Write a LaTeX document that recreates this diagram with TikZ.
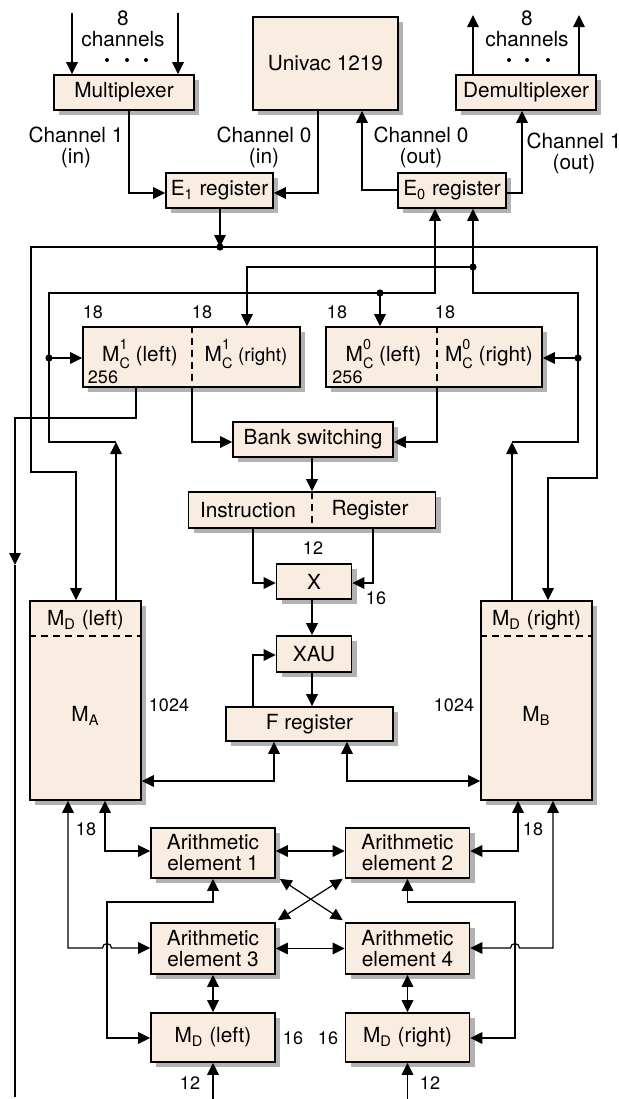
\documentclass[tikz,border=0pt]{standalone}
\usepackage{fontspec}
\setmainfont{TeX Gyre Heros}
\usetikzlibrary{arrows.meta,shadows}
\definecolor{boxfill}{RGB}{249,236,224}
\newcommand{\nsz}{\fontsize{9}{10}\selectfont}
\newcommand{\mcc}[1]{M\rlap{\raisebox{0.55em}{\fontsize{7.2}{8}\selectfont #1}}\raisebox{-0.35em}{\fontsize{7.2}{8}\selectfont C}}
\newcommand{\mdd}{M\textsubscript{D}}

\begin{document}
\begin{tikzpicture}[x=0.5pt,y=-0.5pt,line width=0.6pt,inner sep=0.5pt,
  font=\fontsize{10.4}{10.5}\selectfont,
  blk/.style={draw,line width=0.8pt,fill=boxfill,inner sep=0pt,
    drop shadow={shadow xshift=2.5pt,shadow yshift=-2.5pt,fill=black!30,opacity=1}},
  arr/.style={-{Triangle[length=6pt,width=5.8pt]}},
  arrs/.style={{Triangle[length=6pt,width=5.8pt]}-{Triangle[length=6pt,width=5.8pt]}},
  split/.style={dash pattern=on 3.5pt off 2.5pt},
  num/.style={font=\nsz}]
     \useasboundingbox (0,0) rectangle (619,1099);
     \node[blk,minimum width=70pt,minimum height=17.5pt] (mux) at (124,92.5) {Multiplexer};
     \node[blk,minimum width=72.5pt,minimum height=46.5pt] (univac) at (325.5,63.5) {Univac 1219};
     \node[blk,minimum width=70pt,minimum height=17.5pt] (demux) at (526,92.5) {Demultiplexer};
     \node[blk,minimum width=53.5pt,minimum height=17.5pt] (eone) at (219.5,190.5) {E\textsubscript{1} register};
     \node[blk,minimum width=54pt,minimum height=17.5pt] (ezero) at (452,190.5) {E\textsubscript{0} register};
     \node[blk,minimum width=108.5pt,minimum height=30pt] (mcone) at (191.5,357) {};
     \node[blk,minimum width=108pt,minimum height=30pt] (mczero) at (434,357) {};
     \node[blk,minimum width=80pt,minimum height=17.5pt] (bank) at (313,439.5) {Bank switching};
     \node[blk,minimum width=123.5pt,minimum height=18pt] (ireg) at (312,510) {};
     \node[blk,minimum width=37.5pt,minimum height=17.5pt] (xreg) at (314,581.5) {X};
     \node[blk,minimum width=37.5pt,minimum height=18pt] (xau) at (314,654) {XAU};
     \node[blk,minimum width=83.5pt,minimum height=17pt] (freg) at (309.5,724) {F register};
     \node[blk,minimum width=55.5pt,minimum height=99.5pt] (ma) at (85.5,700.5) {};
     \node[blk,minimum width=55.5pt,minimum height=99.5pt] (mb) at (536.5,700.5) {};
     \node[blk,align=center,minimum width=62pt,minimum height=25pt] (aeone) at (213,853) {Arithmetic\\element 1};
     \node[blk,align=center,minimum width=62pt,minimum height=25pt] (aetwo) at (407.5,853) {Arithmetic\\element 2};
     \node[blk,align=center,minimum width=62pt,minimum height=25.5pt] (aethree) at (213,948.5) {Arithmetic\\element 3};
     \node[blk,align=center,minimum width=62pt,minimum height=25.5pt] (aefour) at (407.5,948.5) {Arithmetic\\element 4};
     \node[blk,minimum width=62pt,minimum height=24.5pt] (mdl) at (213,1037.5) {\mdd{} (left)};
     \node[blk,minimum width=62pt,minimum height=24.5pt] (mdr) at (407.5,1037.5) {\mdd{} (right)};

     \node[align=center] (chin) at (123,28.5) {8\\channels};
     \node[align=center] (chout) at (527,28.5) {8\\channels};
     \fill (107,60) circle (1pt); \fill (127,60) circle (1pt); \fill (146,60) circle (1pt);
     \fill (509,60) circle (1pt); \fill (527,60) circle (1pt); \fill (548,60) circle (1pt);
     \node[align=center] (chonein) at (76,147) {Channel 1\\(in)};
     \node[align=center] (chzeroin) at (264,147) {Channel 0\\(in)};
     \node[align=center] (chzeroout) at (421,147) {Channel 0\\(out)};
     \node[align=center] (choneout) at (574,153) {Channel 1\\(out)};

     \node (mconeL) at (140,354) {\mcc{1} (left)};
     \node (mconeR) at (246,354) {\mcc{1} {\fontsize{9.4}{10}\selectfont(right)}};
     \node (mczeroL) at (383.5,354) {\mcc{0} (left)};
     \node (mczeroR) at (489,354) {\mcc{0} (right)};
     \node[num] (szone) at (103,377) {256};
     \node[num] (szzero) at (347.5,377) {256};
     \node (instr) at (248,510) {Instruction};
     \node (regis) at (370,510) {Register};
     \node (mdaL) at (85.5,620) {\mdd{} (left)};
     \node (maL) at (85.5,716) {M\textsubscript{A}};
     \node (mdbL) at (536.5,620) {\mdd{} (right)};
     \node (mbL) at (536.5,716) {M\textsubscript{B}};

     \node[num] (wa) at (93,312) {18};
     \node[num] (wb) at (202,312) {18};
     \node[num] (wc) at (337,312) {18};
     \node[num] (wd) at (445,312) {18};
     \node[num] (we) at (313,548) {12};
     \node[num] (wf) at (376,598) {16};
     \node[num] (wg) at (169,705) {1024};
     \node[num] (wh) at (454,705) {1024};
     \node[num] (wi) at (86,829) {18};
     \node[num] (wj) at (533,829) {18};
     \node[num] (wk) at (293,1038) {16};
     \node[num] (wl) at (328,1038) {16};
     \node[num] (wm) at (190,1083) {12};
     \node[num] (wn) at (430,1083) {12};

     \draw[split] (312,492) -- (312,528);
     \draw[split] (ma.west |- 0,636) -- (ma.east |- 0,636);
     \draw[split] (mb.west |- 0,636) -- (mb.east |- 0,636);

     \coordinate (mi1) at (72,13);  \coordinate (mi2) at (178,13);
     \coordinate (do1) at (473,15); \coordinate (do2) at (579,15);
     \draw[arr] (mi1) -- (mi1 |- mux.north);
     \draw[arr] (mi2) -- (mi2 |- mux.north);
     \draw[arr] (do1 |- demux.north) -- (do1);
     \draw[arr] (do2 |- demux.north) -- (do2);

     \coordinate (c1) at (129,193); \coordinate (c0) at (318,193);
     \coordinate (o0) at (362,190); \coordinate (o1) at (522,193);
     \draw[arr] (c1 |- mux.south) -- (c1) -- (c1 -| eone.west);
     \draw[arr] (c0 |- univac.south) -- (c0) -- (c0 -| eone.east);
     \draw[arr] (o0 -| ezero.west) -- (o0) -- (o0 |- univac.south);
     \draw[arr] (o1 -| ezero.east) -- (o1) -- (o1 |- demux.south);

     \coordinate (tap) at (220,247);
     \coordinate (bl) at (31,247);  \coordinate (bl2) at (31,472);  \coordinate (mai) at (76,472);
     \coordinate (br) at (597,247); \coordinate (br2) at (597,478); \coordinate (mbi) at (548,478);
     \draw[arr] (eone.south -| tap) -- (tap);
     \draw[arr] (tap) -- (bl) -- (bl2) -- (mai) -- (mai |- ma.north);
     \draw[arr] (tap) -- (br) -- (br2) -- (mbi) -- (mbi |- mb.north);
     \fill (tap) circle (1.8pt);

     \coordinate (au) at (116,442); \coordinate (lc1) at (49,442);
     \coordinate (lc2) at (49,293); \coordinate (ea) at (435,293);
     \coordinate (t1) at (49,358);  \coordinate (t0) at (380,293);
     \draw[arr] (au |- ma.north) -- (au);
     \draw[arr] (au) -- (lc1) -- (lc2) -- (ea) -- (ea |- ezero.south);
     \draw[arr] (t1) -- (t1 -| mcone.west);
     \draw[arr] (t0) -- (t0 |- mczero.north);
     \fill (t1) circle (1.8pt);
     \fill (t0) circle (1.8pt);

     \coordinate (bu) at (512,442); \coordinate (rc1) at (578,442);
     \coordinate (rc2) at (578,293); \coordinate (eb) at (473,293);
     \coordinate (t2) at (578,358); \coordinate (t3) at (473,267); \coordinate (t4) at (247,267);
     \draw[arr] (bu |- mb.north) -- (bu);
     \draw[arr] (bu) -- (rc1) -- (rc2) -- (eb) -- (eb |- ezero.south);
     \draw[arr] (t2) -- (t2 -| mczero.east);
     \draw[arr] (t3) -- (t4) -- (t4 |- mcone.north);
     \fill (t2) circle (1.8pt);
     \fill (t3) circle (1.8pt);

     \coordinate (mo) at (136,418); \coordinate (lf) at (15,418);
     \coordinate (ld) at (15,565);  \coordinate (le) at (15,1097);
     \draw[arr] (mo |- mcone.south) -- (mo) -- (lf) -- (ld);
     \draw (ld) -- (le);
     \coordinate (d1) at (192,442); \coordinate (d0) at (437,442);
     \draw[split] (d1 |- mcone.north) -- (d1 |- mcone.south);
     \draw[split] (d0 |- mczero.north) -- (d0 |- mczero.south);
     \draw[arr] (d1 |- mcone.south) -- (d1) -- (d1 -| bank.west);
     \draw[arr] (d0 |- mczero.south) -- (d0) -- (d0 -| bank.east);

     \coordinate (col) at (312,0);
     \coordinate (il) at (253,583); \coordinate (ir) at (373,583); \coordinate (fx) at (253,655);
     \draw[arr] (bank.south -| col) -- (ireg.north -| col);
     \draw[arr] (il |- ireg.south) -- (il) -- (il -| xreg.west);
     \draw[arr] (ir |- ireg.south) -- (ir) -- (ir -| xreg.east);
     \draw[arr] (xreg.south -| col) -- (xau.north -| col);
     \draw[arr] (xau.south -| col) -- (freg.north -| col);
     \draw[arr] (fx |- freg.north) -- (fx) -- (fx -| xau.west);

     \coordinate (fa) at (274,781); \coordinate (fb) at (347,781);
     \draw[arrs] (fa |- freg.south) -- (fa) -- (fa -| ma.east);
     \draw[arrs] (fb |- freg.south) -- (fb) -- (fb -| mb.west);

     \coordinate (a1) at (105,851); \coordinate (a3) at (68,948);  \coordinate (h1) at (107,948);
     \coordinate (b1) at (518,851); \coordinate (b3) at (553,948); \coordinate (h2) at (515,948);
     \draw[arrs] (a1 |- ma.south) -- (a1) -- (a1 -| aeone.west);
     \draw[arrs] (a3 |- ma.south) -- (a3) -- ([xshift=-2.25pt]h1)
        arc[start angle=180,end angle=0,radius=2.25pt] -- (h1 -| aethree.west);
     \draw[arrs] (b1 |- mb.south) -- (b1) -- (b1 -| aetwo.east);
     \draw[arrs] (b3 |- mb.south) -- (b3) -- ([xshift=2.25pt]h2)
        arc[start angle=0,end angle=180,radius=2.25pt] -- (h2 -| aefour.east);

     \draw[arrs] (aeone.east |- a1) -- (aetwo.west |- a1);
     \draw[arrs] (aethree) -- (aefour);
     \draw[arrs] ([xshift=2pt]aeone.south east) -- ([xshift=-1pt,yshift=1pt]aefour.north west);
     \draw[arrs] ([xshift=-1pt]aetwo.south west) -- ([xshift=1pt,yshift=1pt]aethree.north east);

     \coordinate (lb1) at (107,902); \coordinate (lb2) at (107,1038);
     \coordinate (rb1) at (515,902); \coordinate (rb2) at (515,1038);
     \draw[arrs] (aeone.south) -- (aeone.south |- lb1) -- (lb1) -- (lb2) -- (lb2 -| mdl.west);
     \draw[arrs] (aetwo.south) -- (aetwo.south |- rb1) -- (rb1) -- (rb2) -- (rb2 -| mdr.east);
     \draw[arrs] (aethree) -- (mdl);
     \draw[arrs] (aefour) -- (mdr);

     \coordinate (inl) at (213,1099); \coordinate (inr) at (407.5,1099);
     \draw[arr] (inl) -- (mdl);
     \draw[arr] (inr) -- (mdr);
    \end{tikzpicture}
\end{document}
